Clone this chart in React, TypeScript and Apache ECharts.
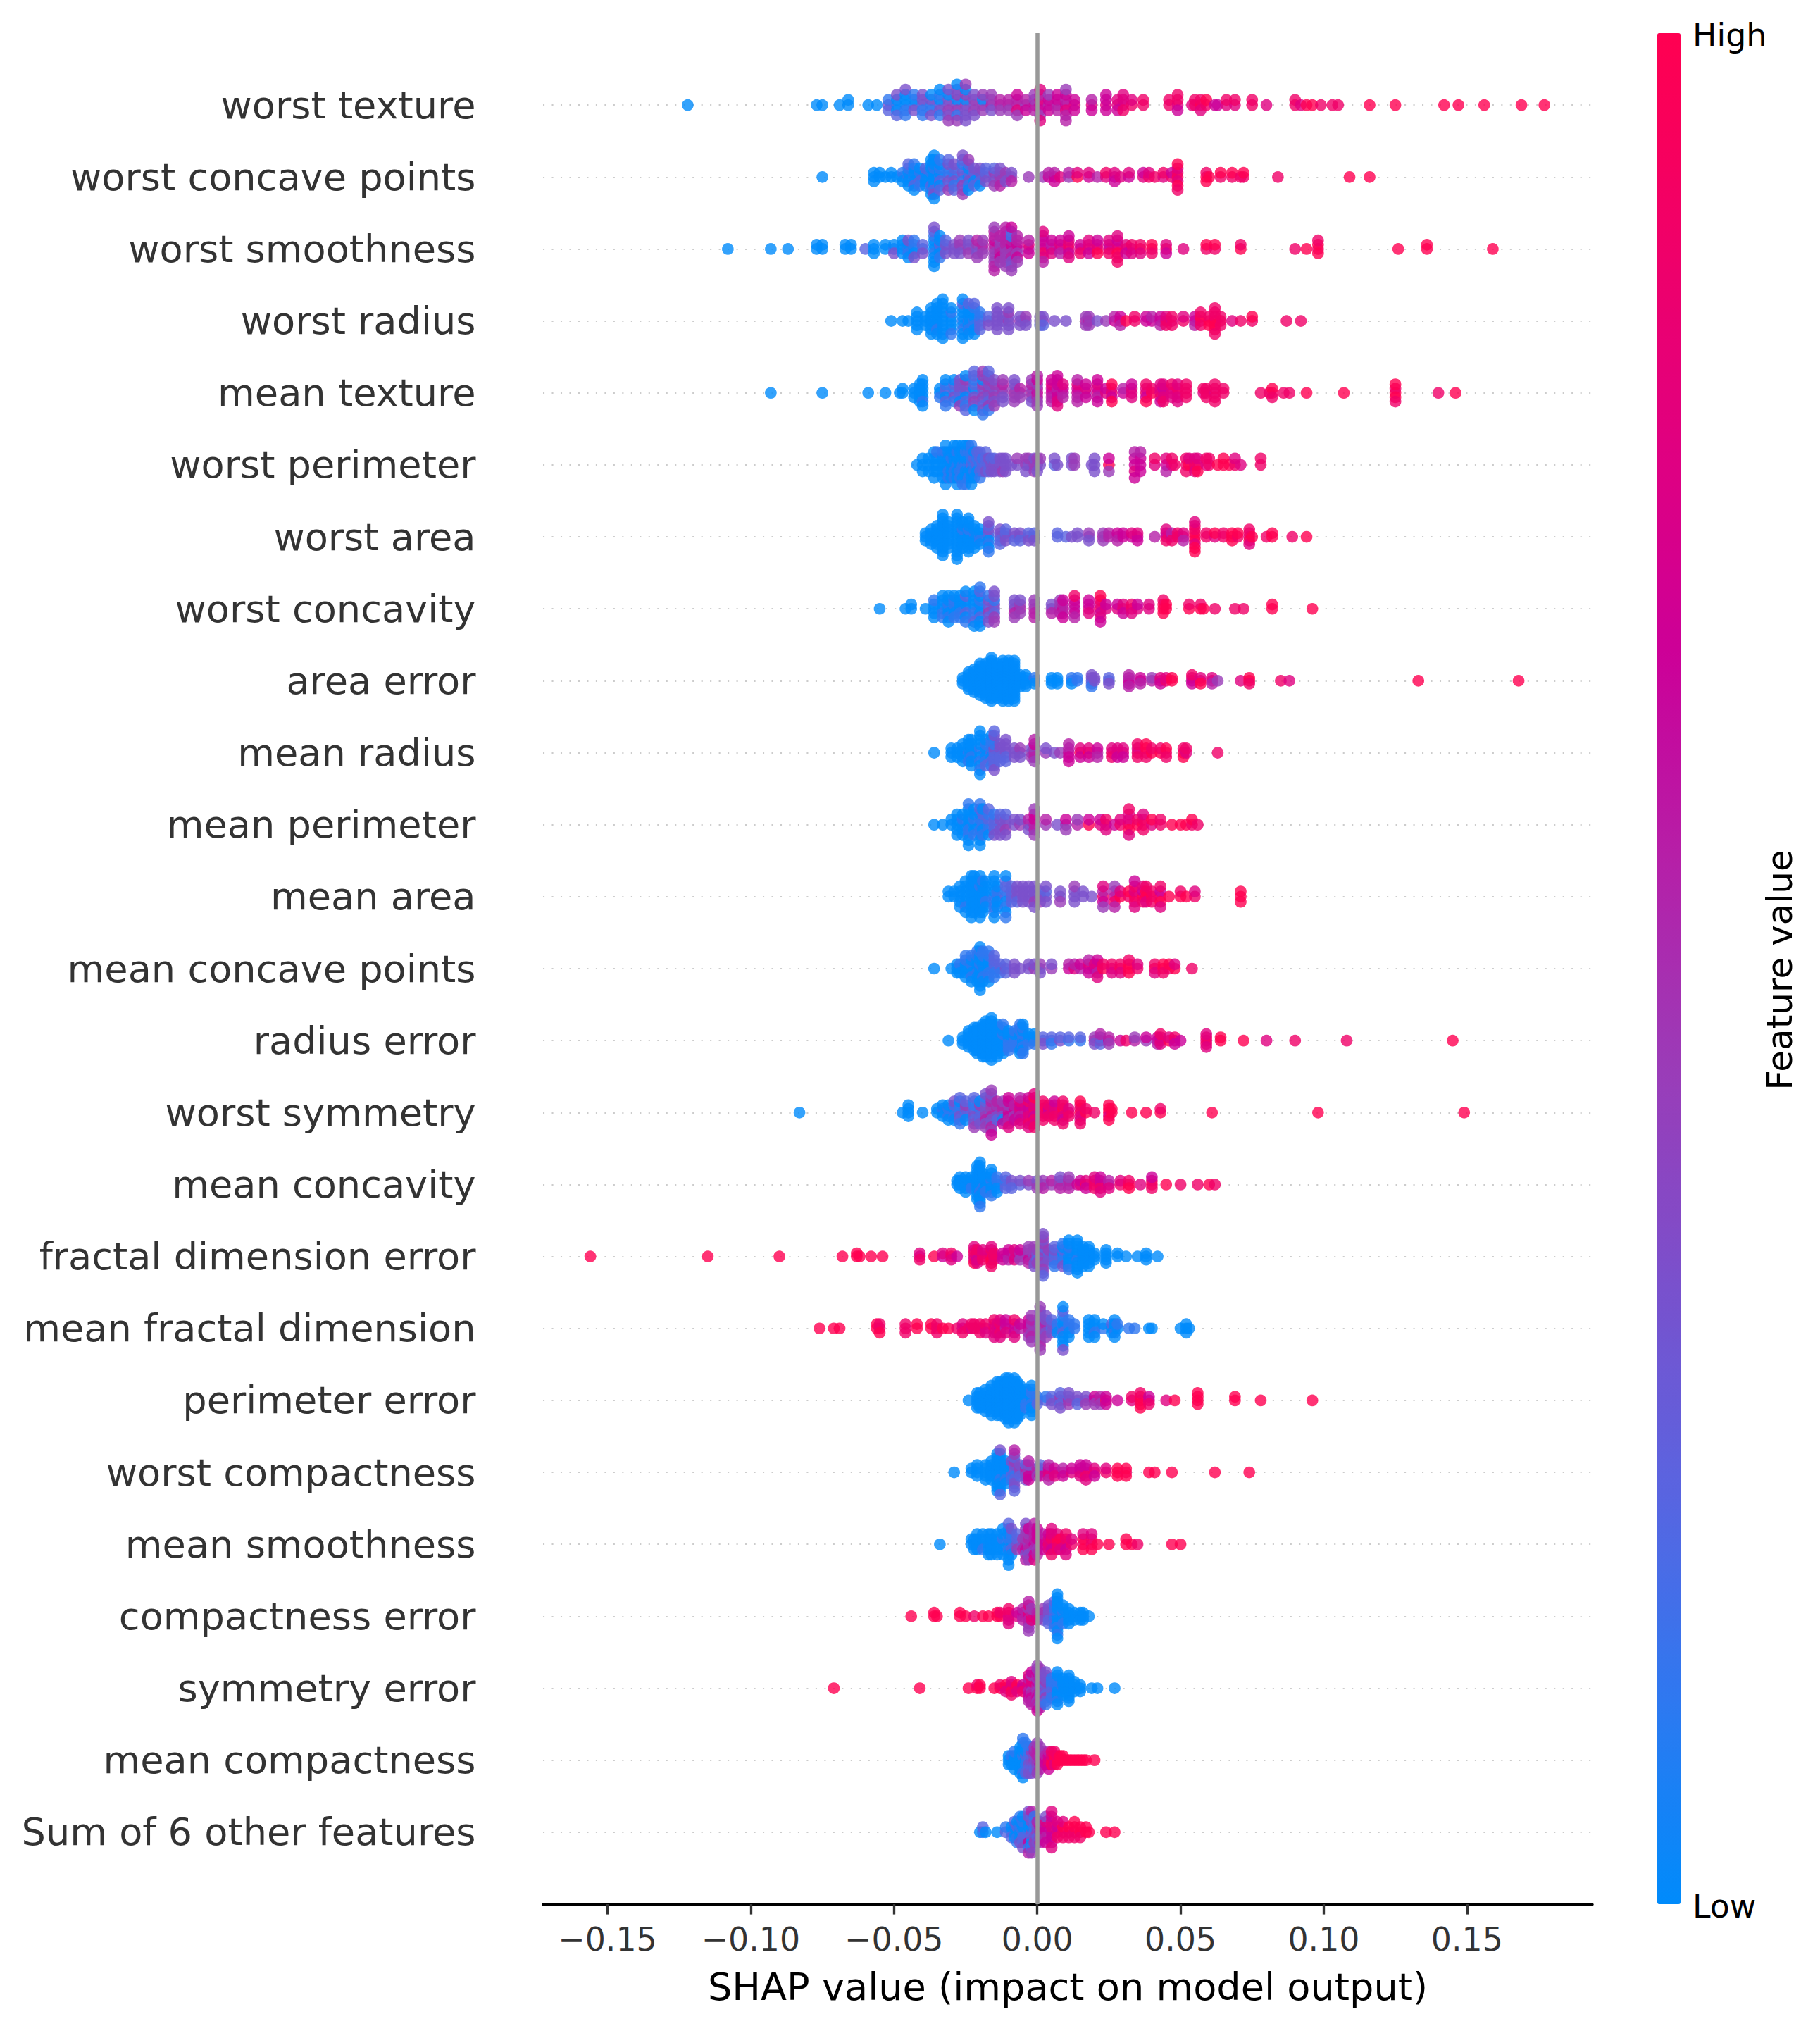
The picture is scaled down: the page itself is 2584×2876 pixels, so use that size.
import React, { useEffect, useRef } from "react";
import * as echarts from "echarts";

// Each entry: [SHAP value in thousandths, feature level (0-9) of every sample stacked at that value]
const featureNames = ["worst texture","worst concave points","worst smoothness","worst radius","mean texture","worst perimeter","worst area","worst concavity","area error","mean radius","mean perimeter","mean area","mean concave points","radius error","worst symmetry","mean concavity","fractal dimension error","mean fractal dimension","perimeter error","worst compactness","mean smoothness","compactness error","symmetry error","mean compactness","Sum of 6 other features"];
const xTicks = [-0.15,-0.1,-0.05,0,0.05,0.1,0.15];
const colorStops = ["#008bfb","#2f78f0","#5a64e0","#7a50cc","#9a3cb8","#b520a8","#cc0098","#e00080","#f00068","#ff0051"];

const worstTexture = [[-122,0],[-77,0],[-75,0],[-69,0],[-66,0,0],[-59,0],[-56,0],[-52,3,1,2],[-49,1,0,0,3,2],[-46,0,0,1,0,1,3],[-43,1,0,3,1],[-40,2,3,1,3,1],[-37,1,3,1,0,3],[-34,2,0,3,1,1,0],[-31,3,3,4,0,3,3,4],[-28,3,0,4,4,1,3,4,0],[-25,4,0,3,4,3,0,3,4],[-22,3,4,4,3,3],[-19,4,0,4,4],[-16,5,4,3,4],[-13,5,5,4],[-10,5,5,4],[-7,5,5,7,6,4],[-4,4,5,6],[-1,6,4,5,4],[1,6,7,6,5,4,7,7],[4,5,6,6,4],[7,5,6,5,6],[10,6,5,7,6,5,4,5],[13,7,6,6],[19,7,5,6],[24,7,6,6,6],[28,7,7,6],[30,6,7,8,7],[33,8,7],[37,8,8],[46,8,8],[49,7,8,6,8],[54,7],[55,8,8],[57,9,8,7],[59,8,9],[62,6],[63,6],[66,7,8],[69,7,8],[75,8,8],[80,7],[90,8,8],[92,7],[94,9],[96,9],[99,8],[103,8],[105,8],[116,9],[125,9],[142,9],[147,9],[156,9],[169,9],[177,9]];
const worstConcavePoints = [[-75,0],[-57,0,0,0],[-55,0,0],[-53,0],[-51,0,0],[-49,0],[-47,0,1,0],[-45,1,0,0,1,0,2],[-43,1,0,0,0,2,1,0],[-41,0,1,2,0,1],[-39,1,0,0,2,0],[-37,0,1,0,0,2,0,1,0,0],[-36,0,0,0,1,0,0,2,0,3,0,0],[-34,1,0,2,1,0,0,2,1],[-31,2,1,3,1,2,3,4,2],[-29,2,1,3,2,1,3,2],[-26,2,3,1,2,4,1,3,2,4,3],[-24,0,2,3,0,1,2,0,4],[-22,3,2,0,3,2],[-20,0,3,2,3,0],[-18,3,2,3,2],[-15,3,4,3,2,4],[-13,4,3,4,3,5],[-11,4,4,3],[-9,4,3,5],[-3,4],[2,4],[4,6,5],[6,6,5,6],[8,7],[11,4,5],[14,9,7],[18,6,7],[21,5],[24,7,8],[27,6,7,6],[29,7],[32,6,7],[37,7,6],[39,8,7],[41,8],[44,7,8],[47,8,6],[49,9,8,7,7,9,9,8],[59,9,8,9],[60,9],[64,8,9],[68,8,9],[71,8],[72,8,9],[84,8],[109,9],[116,9]];
const worstSmoothness = [[-108,0],[-93,0],[-87,0],[-77,0,0],[-75,0,0],[-67,0,0],[-65,0,0],[-60,2],[-57,0,0,0],[-53,0,0],[-50,1,0,3],[-47,0,0,0,0],[-45,1,0,1,3,0],[-43,0,1,0,1,3],[-40,1,2,3],[-36,0,0,1,0,0,1,0,2,0,3],[-34,0,2,0,0,1,0],[-32,1,3,3,2],[-29,3,3,3],[-27,3,4,3,4],[-24,4,3,4,3],[-21,3,4,3,5,4],[-19,4,5,4,4],[-15,5,5,4,6,4,5,4,5,5,4,5],[-13,5,4,5,4,6,5,4],[-11,4,5,4,5,4,5,4,5,4,5],[-9,5,6,4,5,5,1,3,2,3,6,4],[-7,5,6,4,5,6,5,4],[-3,5,7,6,5],[2,7,6,8,6,7,6,5,7],[5,6,5,7,6],[8,6,7,5,6],[11,7,8,6,7,7,6],[15,7,6,8],[18,8,7,6,7],[21,8,7,9,6],[25,7,6,8,7],[28,8,7,9,6,8,7,8],[31,9,7,6],[33,6,8,7],[36,9,8,7],[40,8,9,8],[45,9,7,6],[51,7],[59,8,9],[62,8,9],[71,9,8],[90,8],[94,9],[98,8,9,9,8],[126,9],[136,9,9],[159,9]];
const worstRadius = [[-51,0],[-47,0],[-45,0],[-42,0,0,0,0,0],[-39,0,0,0],[-37,0,0,0,0,0,0,0],[-35,0,0,0,0,1,0,0,0],[-33,0,0,0,0,0,0,0,0,0,0],[-30,0,0,0,1,0,0,1],[-26,1,0,0,0,1,0,0,2,0,0],[-24,1,0,0,0,1,0,0,2],[-22,1,0,1,0,0,1,0,2],[-20,2,1,2,1,2],[-17,3,2,3],[-14,3,3,3,3,3,3],[-12,3,3],[-10,4,3,3,4,3,3],[-6,4,3,3],[-4,3,4,3],[1,3,3,2],[2,4,3,2],[6,3],[10,3],[17,5,4,4],[18,5,4,4],[21,3],[24,4],[27,6,5],[29,7,6,5],[31,9],[34,8,8],[38,6,6],[40,6,5],[43,6,6,5],[45,8,7,8],[47,7,8,8],[51,8,7],[55,6,6,5],[57,8,9,8,8],[60,9,8,9],[62,9,8,9,8,9,8,8],[64,9,8,8],[68,7],[71,8],[75,8,9],[87,8],[92,8]];
const meanTexture = [[-93,0],[-75,0],[-59,0],[-53,0],[-48,0],[-47,0,0],[-43,0,0,0],[-41,0,0,0,0,0],[-40,0,0,0,0,1,0,0],[-34,0,0,1],[-32,1,2,0,1,2,0,1],[-29,2,1,3,2,1,0],[-27,2,3,2,3,0,3,4],[-25,1,3,0,3,2,4,1,0,2],[-22,2,0,3,2,4,1,3,2,0,2],[-19,2,3,4,4,3,0,2,4,3,4,1],[-17,3,4,3,3,2,4,4,3,1,2],[-15,4,3,4,4,3,3,4],[-12,4,4,3,5,3,4],[-8,5,4,4,3,4,3],[-6,4,5,4],[-2,5,4,4,5,3,4],[0,6,5,5,4,4,6,4,5],[5,6,6,5,7,5,6],[7,6,5,6,6,7,6,7,6],[9,5,6,5,7],[14,6,6,5,7,5,5],[17,5,7,6,6],[21,7,6,5,7,6,6],[24,7,6],[26,8,7,6,9,9],[30,6,5],[33,7,7,7,6],[38,8,7,6,8,9],[40,9,8],[43,7,7,8,7,6],[44,7,6,7,7,8],[47,7,7,7,8],[49,7,8,7,7,7],[52,8,8,8,8],[58,7,8],[59,8,8,8],[62,7,8,8,8,8],[65,8,8],[78,8],[81,8],[82,8,9,8],[86,8],[88,8],[94,9],[107,9],[125,9,8,9,9,8],[140,8],[146,9]];
const worstPerimeter = [[-42,0],[-40,0,0,0],[-38,0,0,0],[-36,0,0,0,0,0],[-35,0,0,0,1],[-33,0,0,0,1,0],[-32,0,0,0,1,0,0,0],[-31,0,0,1,0,1],[-30,0,1,0,0,0],[-29,0,0,1,0,1,0],[-28,1,0,0,1,0,0,0],[-27,0,0,1,0,1],[-26,1,0,1,0,0,0,1],[-25,1,0,0,1,0,0,1],[-24,1,0,0,1,1,0],[-23,2,1,0,1,0,1,0],[-22,1,2,1,0,0],[-21,2,1,0,2],[-20,1,2,2,2,1],[-19,2,1,2],[-18,2,2,3,2],[-17,2,3,2],[-16,3,2,3],[-15,3,2,3],[-13,3,3,3],[-12,3,3,4],[-11,3,3,3],[-9,3],[-7,3,4],[-4,4,4,3],[-3,3,4],[-1,4,3,4],[0,4,4,3],[1,3,4],[6,2,3],[7,3],[12,3,3],[13,4,4],[19,3],[20,3,3,3],[25,9,6,4],[34,6,6,7,5,6],[36,6,6,6,5],[41,7,8],[45,6,7,5],[47,7,8],[48,8],[52,8,8,8],[53,9,7],[55,8,7,7],[56,8,7,9],[59,7,8],[60,8,8],[63,9],[65,9,9],[67,9],[69,8,7],[71,7],[78,8,8]];
const worstArea = [[-39,0,0,0],[-37,0,0,0,0,0],[-35,0,0,0,0,0,0,0],[-33,0,0,0,0,0,0,0,0,0,0,0,0],[-31,0,0,0,0,0,0,0,0],[-28,0,0,0,0,0,0,0,0,0,0,0,0,0],[-26,0,0,0,1,0,0,0,0],[-24,0,0,0,1,0,0,0,0,0,0],[-22,0,1,0,0,0,0,0],[-20,1,0,1,0,0],[-17,1,2,0,3,1,2,0,3,1],[-13,2,3,2,3,2],[-11,3,2,3,2],[-8,3,3,2],[-6,3,3,2],[-3,3,2,3],[-1,2,2,3],[7,2,2],[10,2],[12,3],[14,3,3],[18,3,4,3],[23,5,4,4],[25,5,5],[28,5,6,5],[30,6,6],[33,6,7],[35,6,7,6],[41,5],[45,7,6,8,7],[47,6,5,8],[49,8,8],[51,7,7,5],[55,8,9,9,8,7,8,9,7,9],[59,8,8],[62,7,9],[65,8,8],[68,9,9,9],[70,8,9],[74,7,8,9,8,7],[75,9],[80,8],[82,9,9],[89,8],[94,9]];
const worstConcavity = [[-55,0],[-46,0],[-44,0,0],[-39,0],[-36,0,0,0,1,0],[-33,0,0,1,0,1,0],[-31,0,1,0,0,1,0,0],[-29,0,1,0,1,1,0],[-27,0,0,1,0,1,0],[-25,1,0,2,0,0,2,1,0],[-22,1,0,1,0,1,0,2,0,0],[-20,1,0,0,1,2,0,0,2,0,1],[-17,3,2,4,3,2,1,3],[-15,3,3,2,1,4,3,4,3],[-8,4,3,5,3,4],[-6,5,4,4,3],[-1,5,4,5,4,5],[5,4,3,5],[8,5,4,5,4],[9,6,5,5,6,6],[13,5,6,6,6,5,8],[18,7,6,7,6],[22,9,7,6,8,7,9,6],[24,7,6],[28,7,6],[30,8,7,6],[33,8,8,7],[35,7,6],[39,7,7],[44,9,9,9,8],[45,9,9],[53,9,8],[57,9,8],[58,9],[62,8],[69,8],[72,8],[82,9,9],[96,9]];
const areaError = [[-26,0,0,0],[-24,0,0,0,0,0,0,0],[-22,0,0,0,0,0,0,0,0,0],[-20,0,0,0,0,0,0,0,0,0,0,0,0],[-18,0,0,0,0,0,0,0,0,0,0,0,0,0],[-16,0,0,0,0,0,0,0,0,0,0,0,0,0,0,0,0],[-14,0,0,0,0,0,0,0,0,0,0,0,0,0],[-12,0,0,0,0,0,0,0,0,0,0,0,0,0,0,0],[-10,0,0,0,0,0,0,0,0,0,0,0,0,0,0,0],[-8,0,0,0,0,0,0,0,0,0,0,0,0,0,0,0],[-6,0,0,0,0,0],[-4,0,0,0,0,0],[-1,0,1,0],[5,0,0,0],[7,0,0,0],[12,1,1,0],[14,1,1],[19,2,3,2,3,1],[20,3,3],[25,2,2,3],[32,5,5,6,5,5],[36,6,6,5],[40,5,4],[43,7,7,6],[45,8,7],[47,9,9],[54,6,7,6,8],[57,8,7,9],[61,7,7,5],[63,4],[71,7],[74,9,9,8],[85,8],[88,7],[133,9],[168,9]];
const meanRadius = [[-36,0],[-30,0,0,0],[-28,0,0,0],[-26,0,0,0,0,0],[-24,1,0,0,0,1,0],[-23,0,0,1,0,0,0,0],[-20,0,1,0,0,1,0,0,0,1,0,0],[-18,1,0,0,1,1,0,2],[-16,2,1,0,1,2,1,1,0],[-15,2,3,2,1,2,1,2,3,3,2],[-13,2,3,2,3,2],[-11,3,3,2,3,2,3],[-8,3,3,3],[-6,3,4,3],[-2,4,3,4],[-1,5,4,5,6,4,5],[3,4,3],[6,3],[8,4],[11,6,5,6,5,6],[15,9,7,6],[18,9,7,6],[21,5,6,5],[26,8,7,8],[28,7,7,6],[30,7,7,6],[35,8,7,8,8],[38,8,9,8,9],[40,9,8],[43,9,8],[45,8,9,8],[51,9,8,9],[52,7,8],[63,8]];
const meanPerimeter = [[-36,0],[-33,0],[-30,0,0],[-28,0,0,0,0,0],[-26,0,1,0,0,0],[-24,0,0,1,0,1,0,0,1,0],[-22,0,1,0,0,1,0],[-20,0,1,1,0,1,2,0,1,0],[-19,1,1,0,2,1,0],[-17,1,2,1,1,0,2],[-15,2,2,2,1,3],[-13,2,3,3,2,3],[-11,3,3,4,2,3],[-8,3,3],[-6,4,3],[-3,4,5,3],[-1,5,6,5,6,4,4],[3,4,5],[7,3],[10,4,6,4],[14,5,4],[18,9,6],[22,7,6],[24,7,8,7],[27,6],[29,8,7],[32,8,7,9,7,7,8],[35,9,8],[37,9,8,8,7],[40,7,9],[43,8,8],[47,9],[50,9],[52,9],[54,8,9],[56,8]];
const meanArea = [[-31,0,0],[-29,0,0],[-27,0,0,0,0,0],[-25,0,0,0,0,1,0,0],[-23,0,0,0,0,0,0,0,0,0],[-22,0,0,0,0,0,0,0,0],[-20,0,0,0,1,0,0,0,0,0],[-19,0,0,0,0,0,1,0],[-18,0,0,1,0,0,0],[-15,1,0,1,0,1,0,1,0,0],[-14,1,1,0,0,0],[-11,2,1,0,2,1,2,0,0,1],[-9,2,2,2,2],[-7,3,3,2,3],[-5,3,3,3,3],[-3,3,3,3,3],[-1,3,3,4,3,3],[1,3,3,4],[3,3,2,3,3],[8,3,3,4],[13,3,3,3,4],[16,3,3],[19,3],[23,8,5,6,7,4],[27,6,5,8,4,5],[29,9,7],[32,8,9],[34,9,7,8,8,7,6],[37,9,6,8,7],[38,9,9,7,8],[40,9,8,8],[43,8,6,9,8,7],[46,9],[50,9,8],[52,9],[55,8,7],[71,9,9,9]];
const meanConcavePoints = [[-36,0],[-30,0],[-28,0,0,0],[-27,0,1,0],[-25,0,0,0,1,0,1],[-23,0,1,0,0,1,1,0],[-21,0,0,1,0,0,1,0,1],[-20,0,1,0,0,0,0,0,1,0,0,0],[-19,1,0,0,0,1,1,0,1],[-17,0,0,1,0,1,1,0,1],[-15,1,2,1,2,1,2],[-13,2,2,1],[-11,3,2,2],[-8,3,3,3],[-6,3],[-3,3,3],[-1,4,3],[1,3,4,3],[5,4,3],[11,6,5],[13,7,5],[15,5,6],[18,6,7,6,5],[20,6,7],[21,6,7,5,6,7],[23,9,8],[26,7,8,7],[29,9,8,7],[32,9,9,9,8],[35,8,7],[41,9,8,7],[44,9,9,8],[46,8,9],[48,9,7],[54,8]];
const radiusError = [[-31,0],[-26,0,0,0],[-24,0,0,0,0,0,0],[-22,0,0,0,0,0,0,0,0],[-21,0,0,0,0,0,0,0,0,0],[-19,0,0,0,0,0,0,0,0,0,0,0],[-18,0,0,0,0,0,0,0,0,0,0,0,0],[-16,0,0,0,0,0,0,0,0,0,0,0,0,0,0],[-14,0,0,0,0,0,0,0,0,0,0,0],[-12,0,0,0,1,0,0,0,0,0,1],[-10,1,0,1,0,1,0,1],[-8,1,1,1,0,1,1],[-6,1,0,1,0,1,1,0,1,0,1],[-5,0,1,0,1,1,0,0,1,1,0],[-3,1,0,1,0],[-1,0,0,1,0],[2,2,2,3],[5,1,2,1],[8,3,2],[11,1,2],[15,1,2],[20,5,4,3],[22,6,3,2,5],[25,6,5,4],[29,6],[31,8],[34,5,4],[38,4,6],[42,6,6,5],[43,7,6,7,8],[46,9,7],[48,7,8,6],[50,6],[59,7,8,8,7,7],[64,9,9],[72,9],[80,7],[90,8],[108,8],[145,9]];
const worstSymmetry = [[-83,0],[-47,0],[-45,0,0,0,0],[-40,0],[-35,0,0],[-33,0,1,0,0],[-31,0,1,1,0,0],[-29,1,0,1,2,0,3],[-27,2,1,3,1,2,0,1,2],[-25,1,3,2,4,0,2],[-22,3,2,3,1,2,1,3,2,4],[-20,3,1,2,4,2,0,3],[-18,4,3,4,3,5,2,3,1,4,3],[-16,3,4,5,4,3,5,3,4,5,3,4,4,6],[-14,4,5,3,4,2,5],[-12,4,5,3,5,0,4,6],[-10,6,5,6,4,5,6,5,6,7],[-8,5,6,4,5,6],[-6,6,7,5,6,6,7,7,5],[-3,7,6,7,6,7,8,8,6,7],[-1,7,8,6,7,8,7,7,9,8,7],[2,8,7,8,9,8,8],[4,7,6,8,8],[6,8,7,8,7,8,6],[9,8,9,7,8,6,8,8],[11,8,7,8],[15,9,8,7,8,7,9,8],[17,9,8],[20,8],[25,9,9,7,9,9],[26,9,9],[33,9],[38,9],[43,9,8],[61,9],[98,9],[149,9]];
const meanConcavity = [[-28,0,0],[-27,0,0,0,0],[-25,0,0,0,0,0],[-23,0,0,1,0],[-21,0,0,0,0,0,0,0,0,0,0],[-20,0,0,0,0,1,0,0,0,0,0,0,0,1],[-19,0,0,1,0,0,0],[-18,0,0,0,0,1],[-16,0,1,0,0,0,0,1,0],[-14,0,1,0,1,0],[-11,2,1,2,2],[-9,2,3,2],[-6,2,3],[-3,3,4],[0,4,3,4],[2,3,4,5],[5,4,5],[8,4,4,5,3],[11,4,5,5,4],[14,6],[15,7,6],[17,9,7,6],[20,8,8,8,7],[22,7,6,8,6,7],[25,6,5,7],[29,8,7],[32,9,8,9],[36,7],[40,9,8,8,6],[45,9],[50,8],[56,8],[60,9],[62,8]];
const fractalDimensionError = [[-156,9],[-115,9],[-90,9],[-68,9],[-63,9,9],[-62,9],[-58,9],[-54,9],[-41,7,7,8],[-36,9],[-33,6,7],[-30,8,8,7],[-28,6],[-22,7,8,7,8,9,7],[-21,7,8,6,8,7],[-19,8,7,8,7],[-16,8,7,9,8,9,7,8],[-15,7,8,8],[-12,7,6,6],[-10,5,6,5,6],[-8,6,5,7,7],[-6,6,5,4,6],[-3,5,4,6,4,5,4],[-1,3,4,5,4,3,4,3],[0,3,3,2,4,4],[2,3,2,3,4,4,2,3,4,4,3,3,4,2,3],[4,3,2,3,4],[6,2,1,2,3,2,2,1],[9,1,0,1,2,1,0,3,1],[11,0,1,0,0,0,1,0,0,1,0],[14,0,0,1,0,0,0,0,0,0,0,0],[16,0,0,0,0,0,0,0],[18,0,0,0,0,0,0,0],[20,0,0,0],[24,0,0,0,0,0],[28,0,0],[31,0],[35,0],[38,0,0,0],[42,0]];
const meanFractalDimension = [[-76,9],[-71,9],[-69,9],[-56,9,9],[-55,8,8,9],[-46,8,8,8],[-42,9,9],[-37,9,9],[-35,8,8,8],[-33,9],[-31,9],[-28,8],[-26,7,7,8],[-24,8],[-23,7,8],[-22,8,8],[-20,8,8,8],[-18,7,8,7],[-15,8,7,7,8,7],[-14,7,7,7],[-13,6,8,8,7,7],[-11,5,6,7,6],[-8,7,6,6,8,7],[-6,5,6],[-3,6,6,5,6,4],[-2,5,4,4,5,5,4,4],[1,4,3,4,3,4,4,3,3,5,4,4],[3,4,5,3,3,4,3],[5,2,3,3,2],[7,1,1,0],[9,1,0,2,0,0,1,0,2,0,0,3],[11,1,1,0,1,0],[13,1,1],[18,0,0,0,0,0],[20,0,0,1,0,0],[23,1,0],[26,0,2,0],[27,0,0,1,0,0],[28,0,1],[32,1],[34,1],[39,0],[40,0],[50,0],[52,0,0,0],[53,0]];
const perimeterError = [[-24,0],[-21,0,0,0,0,0],[-20,0,0,0,0,0],[-18,0,0,0,0,0,0,0],[-16,0,0,0,0,0,0,0,0,0],[-14,0,0,0,0,0,0,0,0,0,0],[-13,0,0,0,0,0,0,0,0,0,0],[-11,0,0,0,0,0,0,0,0,0,0,0,0],[-10,0,0,0,0,0,0,0,0,0,0,0,0,0],[-8,0,0,0,0,0,0,0,0,0,0,0,0,0],[-7,0,0,0,0,0,0,0,0,0,0,0],[-6,0,0,0,0,0,0,0,0,0],[-4,0,0,1,0,1,0],[-2,0,0,1,1,0,1,0,0,0],[0,1,1,2],[3,2,1],[5,2,2,3],[8,3,4,2,2,3],[11,5,2,4,3],[14,3,3,2],[17,3,3,4],[20,5,6,4],[22,7,5,4],[24,8,6,6],[28,6],[33,7,8],[36,8,9,9,8,9],[39,7,6,8],[45,7],[48,9],[56,9,9,9,9],[69,9,9],[78,9],[96,9]];
const worstCompactness = [[-29,0],[-23,0,0],[-21,0,0,0,0],[-18,0,0,0,0,0],[-16,0,0,0,0,0,0],[-14,0,0,0,0,0,0,0,0,0,0,0],[-13,0,0,0,0,1,0,0,0,0,0,0,3,2],[-11,0,0,0,0,1,0,0],[-9,1,0,2,0,1,3],[-8,3,2,1,3,2,4,3,2,3,4,2,5],[-6,3,4,2,3],[-4,4,5,3,2,3],[-3,5,4,6,3,6,5],[0,5,5,4],[1,3,4,6,2],[4,7,6,7,5,5],[6,6,6,7],[9,7,5,6],[12,7,6],[15,7,6,7,6],[17,7,6,8,6,7],[20,8,7,6],[24,8,7],[28,9,9,9],[31,8,9,9],[39,9],[41,9],[47,9],[62,9],[74,9]];
const meanSmoothness = [[-34,0],[-23,0,0],[-22,0,0,0],[-21,0,0,0,0],[-19,0,0,1,0],[-17,0,0,0,0,0],[-16,0,0,0,0,0],[-14,0,0,0,0,0],[-12,0,1,0,0,0,0],[-10,0,1,1,0,0,0,0,2,0],[-9,0,1,2,1,0,3],[-7,3,2,4,2],[-5,3,4,5],[-4,5,4,6,4,3,4,5,3],[-3,4,5,5,4,3,6,4],[-1,6,5,4,5,6,5,7,5],[0,5,6,4,6,5,6],[2,7,6,6,5],[4,8,7,7,6],[5,7,8,6,7,8,7],[7,8,9,8,7],[8,8,9,7],[10,7,8,6,8,7],[12,8,7],[16,8,9,9,7],[19,8,8,9,7],[21,9],[25,9],[31,9,9],[33,9],[35,8],[47,9],[50,9]];
const compactnessError = [[-44,9],[-36,9,9],[-35,9],[-27,9,9],[-25,9],[-22,8],[-19,9],[-17,9],[-14,9,9],[-13,9,8],[-10,7,8,7,8,7],[-7,7,6],[-5,5,6,5,5],[-3,6,7,5,4,5,7,4,5,4],[-2,8,5,7,4],[0,6,5,7],[2,4,5,3,4],[4,3,3,2,3,2,3],[6,1,2,1,1,2,1,1,2],[7,0,1,0,0,0,0,1,0,0,0,1,0,0],[9,0,1,0,0,1,0],[11,0,0,0,0,0],[13,0,0,0],[15,0,0,0],[16,0,0,0],[18,0]];
const symmetryError = [[-71,9],[-41,9],[-24,9],[-21,9,8],[-20,9,9],[-15,9],[-13,9,8],[-11,8,9,7],[-9,8,7,9,7,8],[-7,8,9,7],[-5,7,6,8],[-3,6,7,5,7,6,5,6,7,5],[-2,5,6,4,7,5,7,6,4,5,6,5],[0,4,5,4,6,5,4,6,5,4,6,5,4,5,4,6],[1,4,3,5,4,3,5,4,3,5,4,3,4,5],[3,3,2,3,4,2,3,4,3,2,3,1],[5,2,1,2,1,2,1,1],[7,0,1,0,1,0,1,0,0,1,0,0],[9,1,0,0,0,0,0],[11,0,0,0,0,0,0,0,0,0],[13,0,0,0,0],[15,0,0,0],[19,0],[21,0],[27,0]];
const meanCompactness = [[-10,0,0,0],[-9,0,1,0],[-8,0,0,0,1,0],[-6,0,0,0,0,0,0,0],[-5,0,1,0,0,0,0,1,0,0,1],[-4,0,2,1,0,1,0,2,1],[-3,1,2,3,1,2,1,3],[-2,3,2,3,4,2,1,3],[-1,4,3,3,5,2,4],[0,4,5,4,5,3,5,4,4],[1,5,4,6,5,5,4],[2,5,6,5,4],[3,6,5,6],[4,7,6,7,5,6],[5,8,7,9,8],[6,8,9,7,8],[7,9,8,9],[8,9,9],[9,9,9],[10,9],[11,9],[12,9],[13,9],[14,9],[15,9],[16,9],[17,9],[20,9]];
const sumOfOthers = [[-20,0],[-19,1,2],[-18,0],[-14,0],[-11,2,1],[-9,1,0,2],[-8,1,0,0,2],[-7,0,2,1,0,1],[-6,0,1,0,0,3,1],[-5,1,0,2,1,2,0,3],[-3,1,0,2,0,6,3,1,3,5],[-2,3,0,2,3,0,2,1,5,4],[-1,2,1,3,2,4,1],[0,4,3,2,5,3],[1,5,6,4,3,5],[3,6,6,5,7,6,3],[5,6,7,6,7,6,6,7,7],[7,7,6,8,7],[9,8,9,8,7],[11,8,9,8],[13,8,9,8,9],[15,9,9,8],[17,9,9],[18,9],[24,9],[27,9]];

const rows = [worstTexture,worstConcavePoints,worstSmoothness,worstRadius,meanTexture,worstPerimeter,worstArea,worstConcavity,areaError,meanRadius,meanPerimeter,meanArea,meanConcavePoints,radiusError,worstSymmetry,meanConcavity,fractalDimensionError,meanFractalDimension,perimeterError,worstCompactness,meanSmoothness,compactnessError,symmetryError,meanCompactness,sumOfOthers];

const FONT = "DejaVu Sans";

// beeswarm: samples of one stack alternate above and below the row line
function buildPoints() {
  const out: number[][] = [];
  rows.forEach((row, i) => {
    const rowY = rows.length - 1 - i;
    const maxLayer = Math.max(...row.map((s) => Math.ceil((s.length - 2) / 2)));
    const unit = 0.36 / (maxLayer + 1);
    row.forEach((stack) => {
      stack.slice(1).forEach((level, layer) => {
        const off = Math.ceil(layer / 2) * (layer % 2 ? 1 : -1);
        out.push([stack[0] / 1000, rowY + off * unit, level]);
      });
    });
  });
  return out;
}

export default function App() {
  const ref = useRef<HTMLDivElement>(null);
  useEffect(() => {
    const chart = echarts.init(ref.current!, undefined, { renderer: "svg" });
    chart.setOption({
      animation: false,
      backgroundColor: "#ffffff",
      grid: { left: 771, top: 47, width: 1490, height: 2656, containLabel: false },
      xAxis: {
        type: "value", min: -0.1725, max: 0.1938, position: "bottom",
        axisLine: { onZero: false, lineStyle: { color: "#000000", width: 3.33 } },
        axisTick: { length: 14.6, customValues: xTicks, lineStyle: { color: "#333333", width: 3.33 } },
        axisLabel: { customValues: xTicks, margin: 27, color: "#333333", fontFamily: FONT, fontSize: 45.83,
          formatter: (v: number) => v.toFixed(2).replace("-", "\u2212") },
        splitLine: { show: false },
        name: "SHAP value (impact on model output)", nameLocation: "middle", nameGap: 90,
        nameTextStyle: { color: "#000000", fontFamily: FONT, fontSize: 54.17 },
      },
      yAxis: {
        type: "value", min: -1, max: 25, interval: 1,
        axisLine: { show: false }, axisTick: { show: false },
        axisLabel: { margin: 95.5, padding: [6, 0, 0, 0], color: "#333333", fontFamily: FONT, fontSize: 54.17, showMinLabel: false, showMaxLabel: false,
          formatter: (v: number) => featureNames[featureNames.length - 1 - v] ?? "" },
        splitLine: { show: true, showMinLine: false, showMaxLine: false,
          lineStyle: { color: "#cccccc", width: 2.08, type: [2.08, 10.4] } },
      },
      visualMap: {
        type: "continuous", show: true, dimension: 2, min: 0, max: 9, seriesIndex: 0,
        inRange: { color: colorStops }, calculable: false, hoverLink: false, realtime: false,
        itemWidth: 33, itemHeight: 2656, left: 2353, top: 47, padding: 0, orient: "vertical",
      },
      series: [{
        type: "scatter", data: buildPoints(), symbolSize: 16.7, progressive: 0, z: 3, silent: true,
        itemStyle: { opacity: 0.8, borderWidth: 0 },
        markLine: { silent: true, symbol: "none", z: 1, animation: false, label: { show: false },
          lineStyle: { color: "#999999", width: 5.5, type: "solid" }, data: [{ xAxis: 0 }] },
      }],
      graphic: [
        { type: "text", x: 2403, y: 50, style: { text: "High", fill: "#000000", font: `45.83px "${FONT}"`, textVerticalAlign: "middle" } },
        { type: "text", x: 2403, y: 2706, style: { text: "Low", fill: "#000000", font: `45.83px "${FONT}"`, textVerticalAlign: "middle" } },
        { type: "text", x: 2527, y: 1377, rotation: Math.PI / 2, style: { text: "Feature value", fill: "#000000", font: `50px "${FONT}"`, textAlign: "center", textVerticalAlign: "middle" } },
      ],
    });
    return () => chart.dispose();
  }, []);
  return <div ref={ref} style={{ position: "absolute", left: 0, top: 0, width: 2584, height: 2876 }} />;
}
